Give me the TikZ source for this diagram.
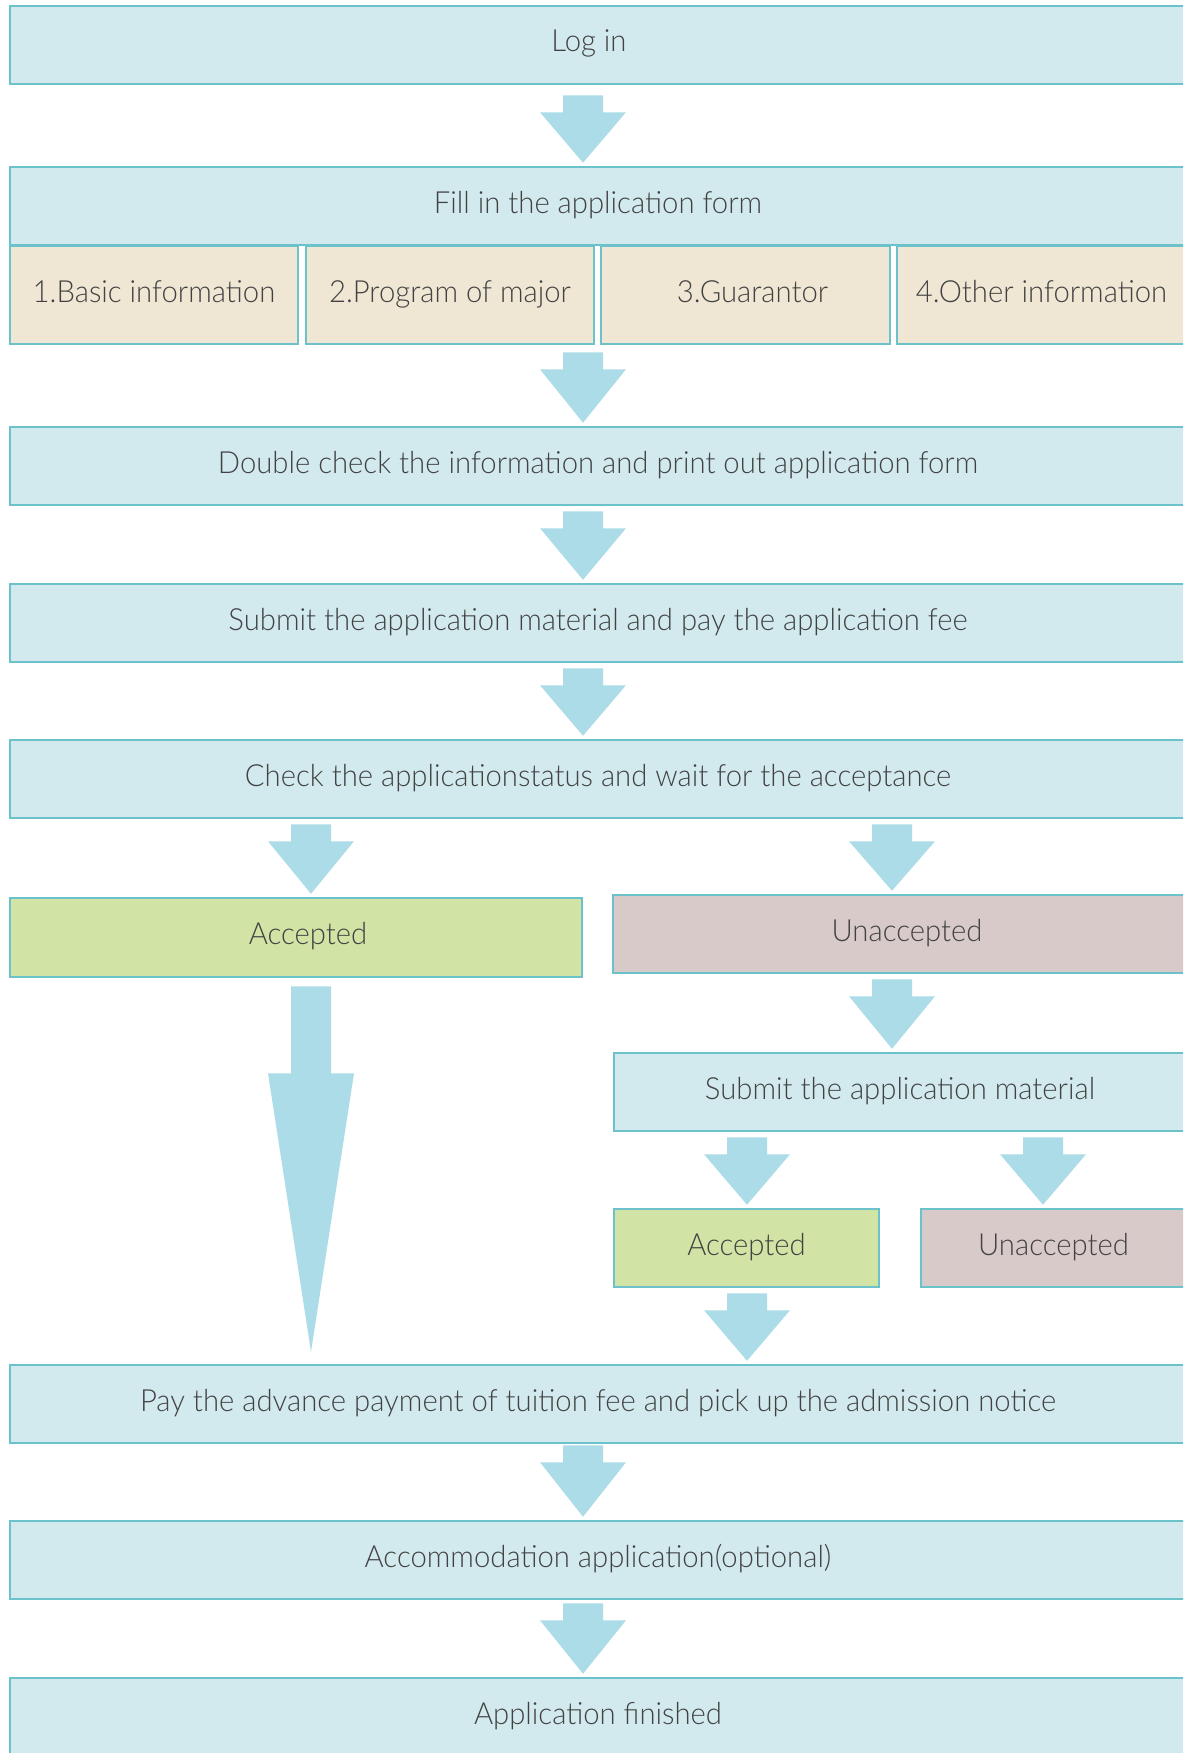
\documentclass[tikz,border=0pt]{standalone}
\usepackage{fontspec}
\setmainfont{Lato Light}[FakeStretch=0.96]
\usetikzlibrary{calc}
\definecolor{boxblue}{HTML}{D2EAEE}
\definecolor{boxline}{HTML}{6CC2CB}
\definecolor{cream}{HTML}{EFE7D4}
\definecolor{accgreen}{HTML}{D1E3A5}
\definecolor{unaccpink}{HTML}{D9CACA}
\definecolor{arrowc}{HTML}{ABDCE8}
\definecolor{txt}{HTML}{424242}
% block arrow from node #1 to node #2 at x = #3 (pt)
\newcommand\barrow[4][5]{%
  \fill[arrowc] let \p1=(#2.south), \p2=(#3.north) in
   (#4pt-20pt,\y1-#1pt) -- (#4pt+20pt,\y1-#1pt) -- (#4pt+20pt,\y1-#1pt-17pt)
   -- (#4pt+43pt,\y1-#1pt-17pt) -- (#4pt,\y2+3pt) -- (#4pt-43pt,\y1-#1pt-17pt)
   -- (#4pt-20pt,\y1-#1pt-17pt) -- cycle;}
\tikzset{
  base/.style={draw=boxline, line width=2.5pt, text=txt,
    font=\fontsize{30.5}{36}\selectfont, inner sep=0pt, anchor=center,
    text height=22pt, text depth=8pt},
  stepbox/.style={base, fill=boxblue, minimum width=1176pt, minimum height=78pt},
  subbox/.style={base, fill=cream, minimum width=288pt, minimum height=98pt},
  accbox/.style={base, fill=accgreen, minimum height=79pt},
  unaccbox/.style={base, fill=unaccpink, minimum height=78pt},
  sidebox/.style={base, fill=boxblue, minimum height=78pt},
}
\begin{document}
\begin{tikzpicture}[x=1pt,y=-1pt]
\useasboundingbox (0,0) rectangle (1183,1753);
\fill[white] (0,0) rectangle (1183,1753);
\clip (0,0) rectangle (1183,1753);

\node[stepbox] (login) at (598,45) {\hspace*{-18pt}Log in};
\node[stepbox] (fill) at (598,206) {Fill in the application form};
\node[subbox] (s1) at (154,295) {1.Basic information};
\node[subbox] (s2) at (450,295) {2.Program of major};
\node[subbox, minimum width=289pt] (s3) at (745.5,295) {\hspace*{14pt}3.Guarantor};
\node[subbox, minimum width=289pt] (s4) at (1041.5,295) {4.Other information};
\node[stepbox] (dbl) at (598,466) {Double check the information and print out application form};
\node[stepbox] (submit) at (598,623) {Submit the application material and pay the application fee};
\node[stepbox] (check) at (598,779) {Check the applicationstatus and wait for the acceptance};
\node[accbox, minimum width=572pt] (acc) at (296,937.5) {\hspace*{24pt}Accepted};
\node[unaccbox, minimum width=573pt] (unacc) at (899.5,934) {\hspace*{15pt}Unaccepted};
\node[sidebox, minimum width=572pt] (submat) at (900,1092) {Submit the application material};
\node[accbox, minimum width=265pt, minimum height=78pt] (acc2) at (746.5,1248) {Accepted};
\node[unaccbox, minimum width=265pt] (unacc2) at (1053.5,1248) {Unaccepted};
\node[stepbox] (pay) at (598,1404) {Pay the advance payment of tuition fee and pick up the admission notice};
\node[stepbox] (accom) at (598,1560) {Accommodation application(optional)};
\node[stepbox] (fin) at (598,1717) {Application finished};

\barrow[10]{login}{fill}{583}
\barrow[7]{s2}{dbl}{583}
\barrow{dbl}{submit}{583}
\barrow{submit}{check}{583}
\barrow{check}{acc}{311}
\barrow{check}{unacc}{892}
\barrow{unacc}{submat}{892}
\barrow{submat}{acc2}{747}
\barrow{submat}{unacc2}{1043}
\barrow{acc2}{pay}{747}
\barrow[1]{pay}{accom}{583}
\barrow[3]{accom}{fin}{583}
% long arrow from Accepted to payment
\fill[arrowc] let \p1=(acc.south), \p2=(pay.north) in
  (291pt,\y1-8pt) -- (331pt,\y1-8pt) -- (331pt,\y1-95pt) -- (354pt,\y1-95pt)
  -- (311pt,\y2+12pt) -- (268pt,\y1-95pt) -- (291pt,\y1-95pt) -- cycle;
\end{tikzpicture}
\end{document}
